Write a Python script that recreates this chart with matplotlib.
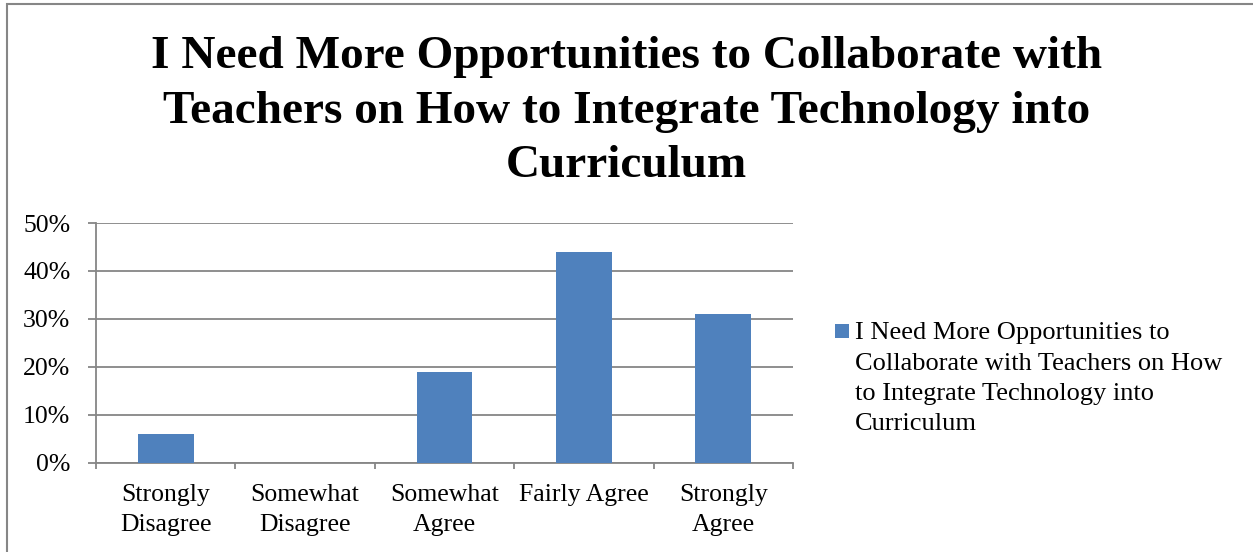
import matplotlib
matplotlib.use("Agg")
import matplotlib.pyplot as plt
from matplotlib.patches import Rectangle
from matplotlib.container import BarContainer
from matplotlib.legend_handler import HandlerPatch
from matplotlib.ticker import FixedLocator, PercentFormatter

# Survey responses
categories = ["Strongly\nDisagree", "Somewhat\nDisagree", "Somewhat\nAgree",
              "Fairly Agree", "Strongly\nAgree"]
percent = [6, 0, 19, 44, 31]
y_ticks = [0, 10, 20, 30, 40, 50]
series_name = ("I Need More Opportunities to\nCollaborate with Teachers on How\n"
               "to Integrate Technology into\nCurriculum")
title = ("I Need More Opportunities to Collaborate with\n"
         "Teachers on How to Integrate Technology into\nCurriculum")

BLUE = "#4F81BD"
GREY = "#868686"
SERIF = ["Liberation Serif", "DejaVu Serif"]
TICK_SIZE = 18.5
LEGEND_SIZE = 19
LEGEND_LS = 1.5

plt.rcParams["font.family"] = SERIF

fig = plt.figure(figsize=(12.53, 5.52), dpi=100)
W, H = 1253, 552

# outer chart frame (open towards the right and bottom edges)
fig.patches.append(Rectangle((7 / W, -0.2), 1.2, 1.2 - 4 / H, transform=fig.transFigure,
                             fill=False, edgecolor=GREY, linewidth=1.5, zorder=0))

ax = fig.add_axes([96 / W, 1 - 462.7 / H, (793 - 96) / W, (462.7 - 223) / H])

x = list(range(len(categories)))
bars = ax.bar(x, percent, width=0.4, color=BLUE, zorder=3, label=series_name)

ax.set_xlim(-0.5, len(categories) - 0.5)
ax.set_ylim(0, 50)
ax.set_yticks(y_ticks)
ax.yaxis.set_major_formatter(PercentFormatter(decimals=0))
ax.yaxis.grid(True, color=GREY, linewidth=1.3, zorder=0)
ax.set_axisbelow(True)

ax.set_xticks(x)
ax.set_xticklabels(categories, fontsize=TICK_SIZE, linespacing=1.45)
ax.xaxis.set_minor_locator(FixedLocator([i - 0.5 for i in range(len(categories) + 1)]))
ax.tick_params(axis="x", which="major", length=0, pad=15.5)
ax.tick_params(axis="x", which="minor", length=4, width=1.3, color=GREY)
ax.tick_params(axis="y", length=6, width=1.3, color=GREY, labelsize=TICK_SIZE, pad=12.5)

for side in ("top", "right"):
    ax.spines[side].set_visible(False)
for side in ("left", "bottom"):
    ax.spines[side].set_color(GREY)
    ax.spines[side].set_linewidth(1.3)


def first_line_square(legend, orig_handle, xdescent, ydescent, width, height, fontsize):
    # lift the key square from the block's centre line up to the first text line
    line_step = fontsize * (0.217 + 0.69 * LEGEND_LS)
    lift = 1.5 * line_step + 0.5 * 0.217 * fontsize
    size = 0.53 * fontsize
    return Rectangle((-xdescent, lift - 0.12 * fontsize), size, size)


def style_from_first_bar(legend_handle, container):
    legend_handle.update_from(container.patches[0])


leg = fig.legend(handles=[bars], labels=[series_name], loc="upper left",
                 bbox_to_anchor=(835 / W, 1 - 322 / H), frameon=False,
                 prop={"family": SERIF, "size": LEGEND_SIZE}, handlelength=0.53,
                 handleheight=0.53, handletextpad=0.23, borderpad=0, borderaxespad=0,
                 handler_map={BarContainer: HandlerPatch(patch_func=first_line_square,
                                                         update_func=style_from_first_bar)})
for t in leg.get_texts():
    t.set_linespacing(LEGEND_LS)

fig.text(0.5, 1 - 36.5 / H, title, ha="center", va="top", fontsize=34,
         fontweight="bold", linespacing=1.38, multialignment="center")

fig.savefig("out.png", dpi=100)
